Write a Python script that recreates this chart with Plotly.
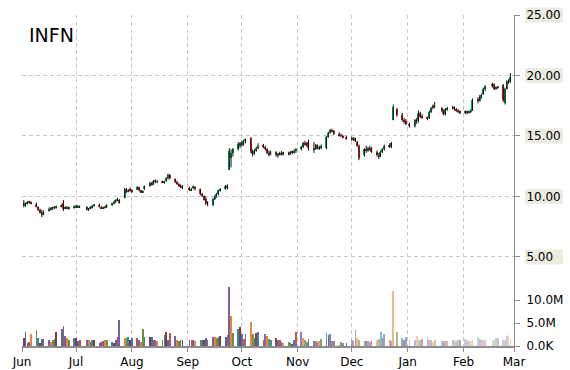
import plotly.graph_objects as go
import pandas as pd

# ---------------- data ----------------
months = ["2014-06", "2014-07", "2014-08", "2014-09", "2014-10", "2014-11", "2014-12", "2015-01", "2015-02"]
trading_days = {
    "2014-06": [2, 3, 4, 5, 6, 9, 10, 11, 12, 13, 16, 17, 18, 19, 20, 23, 24, 25, 26, 27, 30],
    "2014-07": [1, 2, 3, 7, 8, 9, 10, 11, 14, 15, 16, 17, 18, 21, 22, 23, 24, 25, 28, 29, 30, 31],
    "2014-08": [1, 4, 5, 6, 7, 8, 11, 12, 13, 14, 15, 18, 19, 20, 21, 22, 25, 26, 27, 28, 29],
    "2014-09": [2, 3, 4, 5, 8, 9, 10, 11, 12, 15, 16, 17, 18, 19, 22, 23, 24, 25, 26, 29, 30],
    "2014-10": [1, 2, 3, 6, 7, 8, 9, 10, 13, 14, 15, 16, 17, 20, 21, 22, 23, 24, 27, 28, 29, 30, 31],
    "2014-11": [3, 4, 5, 6, 7, 10, 11, 12, 13, 14, 17, 18, 19, 20, 21, 24, 25, 26, 28],
    "2014-12": [1, 2, 3, 4, 5, 8, 9, 10, 11, 12, 15, 16, 17, 18, 19, 22, 23, 24, 26, 29, 30, 31],
    "2015-01": [2, 5, 6, 7, 8, 9, 12, 13, 14, 15, 16, 20, 21, 22, 23, 26, 27, 28, 29, 30],
    "2015-02": [2, 3, 4, 5, 6, 9, 10, 11, 12, 13, 17, 18, 19, 20, 23, 24, 25, 26, 27],
}

opens = [
    9.5, 9.2, 9.4, 9.55, 9.5, 9.4, 9.1, 8.85, 8.7, 8.5, 8.8, 9.0, 8.95, 9.1, 9.05, 9.2, 9.5, 9.0, 9.1, 9.0, 9.1,
    9.1, 9.2, 9.1, 9.15, 8.9, 9.0, 9.1, 9.25, 9.3, 9.15, 9.0, 9.1, 9.1, 9.3, 9.4, 9.55, 9.7, 9.7, 9.9, 10.6, 10.4, 10.55,
    10.5, 10.6, 10.75, 10.5, 10.35, 10.6, 10.85, 11.1, 11.0, 11.3, 11.2, 11.2, 11.15, 11.3, 11.5, 11.8, 11.45, 11.2, 11.05, 10.9, 10.8,
    10.7, 10.5, 10.7, 10.8, 10.6, 10.2, 10.0, 9.8, 9.5, 9.3, 9.8, 10.0, 10.2, 10.5, 10.6, 10.9, 12.2, 13.2, 13.6, 13.9, 14.2,
    14.4, 14.3, 14.6, 14.8, 13.8, 13.5, 13.8, 14.0, 14.2, 14.1, 13.9, 13.6, 13.5, 13.7, 13.4, 13.5, 13.6, 13.5, 13.6, 13.5, 13.7, 13.6, 13.8,
    13.9, 14.1, 14.4, 14.3, 14.5, 14.0, 13.9, 14.25, 14.0, 14.0, 14.0, 14.9, 15.25, 15.5, 15.4, 15.2, 15.05, 15.0, 14.9,
    14.8, 14.7, 14.8, 14.5, 14.2, 13.4, 13.9, 13.8, 14.0, 13.9, 13.7, 13.4, 13.3, 13.7, 13.9, 14.2, 14.1, 16.3, 17.2, 16.7, 16.3, 16.2,
    16.0, 15.8, 16.3, 16.2, 16.9, 16.6, 16.5, 16.5, 17.0, 17.3, 17.6, 17.3, 17.1, 16.8, 17.2, 17.3, 17.4, 17.2, 17.1, 17.0,
    16.9, 17.0, 16.9, 17.0, 17.1, 18.0, 17.9, 18.3, 18.5, 18.9, 19.1, 19.3, 18.9, 19.0, 19.2, 17.7, 18.9, 19.5, 19.5,
]
highs = [
    9.7, 9.5, 9.6, 9.65, 9.6, 9.5, 9.2, 9.0, 8.9, 8.85, 9.1, 9.1, 9.15, 9.2, 9.25, 9.35, 9.7, 9.2, 9.2, 9.15, 9.25,
    9.3, 9.3, 9.25, 9.2, 9.05, 9.2, 9.3, 9.35, 9.4, 9.2, 9.15, 9.2, 9.35, 9.45, 9.6, 9.75, 9.9, 9.8, 10.7, 10.7, 10.6, 10.75,
    10.6, 10.85, 10.8, 10.55, 10.5, 10.9, 11.2, 11.2, 11.35, 11.4, 11.35, 11.3, 11.3, 11.6, 11.9, 11.85, 11.5, 11.3, 11.1, 11.0, 10.95,
    10.8, 10.7, 10.9, 10.85, 10.65, 10.3, 10.1, 10.0, 9.6, 9.9, 10.1, 10.3, 10.55, 10.7, 10.95, 11.0, 14.0, 13.9, 14.0, 14.5, 14.5,
    14.6, 14.7, 14.8, 14.9, 13.9, 13.9, 14.1, 14.4, 14.35, 14.2, 14.0, 13.8, 13.8, 13.75, 13.6, 13.7, 13.75, 13.7, 13.7, 13.75, 13.8, 13.9, 14.0,
    14.2, 14.5, 14.6, 14.5, 14.7, 14.5, 14.35, 14.3, 14.2, 14.3, 15.0, 15.35, 15.6, 15.6, 15.5, 15.3, 15.2, 15.1, 15.0,
    14.95, 14.9, 14.85, 14.6, 14.3, 14.0, 14.2, 14.1, 14.2, 14.1, 13.8, 13.6, 13.8, 14.0, 14.3, 14.4, 14.5, 17.6, 17.3, 16.9, 16.5, 16.4,
    16.1, 16.4, 16.5, 17.1, 17.0, 16.8, 16.6, 17.1, 17.4, 17.6, 17.8, 17.4, 17.2, 17.3, 17.4, 17.5, 17.45, 17.3, 17.2, 17.1,
    17.1, 17.1, 17.1, 17.2, 18.1, 18.2, 18.4, 18.5, 19.0, 19.2, 19.4, 19.35, 19.1, 19.1, 19.3, 19.0, 19.6, 19.7, 20.2,
]
lows = [
    9.1, 9.15, 9.35, 9.4, 9.35, 9.1, 8.8, 8.6, 8.3, 8.45, 8.75, 8.85, 8.9, 8.95, 9.0, 9.1, 8.8, 8.95, 8.95, 8.9, 9.0,
    9.05, 9.05, 9.05, 8.85, 8.8, 8.95, 9.0, 9.15, 9.1, 8.95, 8.95, 9.0, 9.05, 9.2, 9.35, 9.45, 9.6, 9.4, 9.85, 10.3, 10.35, 10.4,
    10.3, 10.55, 10.4, 10.3, 10.3, 10.55, 10.8, 10.9, 10.95, 11.1, 11.1, 11.1, 11.05, 11.2, 11.4, 11.4, 11.1, 10.95, 10.8, 10.7, 10.6,
    10.45, 10.45, 10.6, 10.5, 10.1, 9.95, 9.65, 9.3, 9.2, 9.2, 9.7, 9.9, 10.1, 10.4, 10.55, 10.6, 12.2, 12.4, 13.3, 13.8, 14.0,
    14.1, 14.2, 14.4, 13.6, 13.3, 13.45, 13.7, 13.9, 14.0, 13.8, 13.5, 13.3, 13.4, 13.3, 13.2, 13.4, 13.4, 13.4, 13.4, 13.45, 13.5, 13.55, 13.6,
    13.8, 14.0, 14.2, 14.1, 13.8, 13.6, 13.85, 13.9, 13.85, 13.9, 13.9, 14.85, 15.2, 15.3, 15.1, 14.95, 14.9, 14.8, 14.7,
    14.6, 14.6, 14.5, 14.1, 13.0, 13.3, 13.6, 13.7, 13.8, 13.6, 13.3, 13.1, 13.25, 13.6, 13.8, 14.0, 14.0, 16.3, 16.6, 16.2, 16.0, 15.9,
    15.7, 15.7, 16.0, 16.1, 16.5, 16.4, 16.3, 16.4, 16.9, 17.2, 17.3, 17.0, 16.7, 16.7, 17.1, 17.2, 17.1, 17.0, 16.9, 16.8,
    16.8, 16.8, 16.85, 16.9, 17.1, 17.7, 17.85, 18.1, 18.4, 18.7, 19.0, 18.8, 18.8, 18.9, 17.8, 17.6, 18.85, 19.3, 19.4,
]
closes = [
    9.2, 9.4, 9.55, 9.5, 9.45, 9.15, 8.85, 8.7, 8.45, 8.75, 9.0, 8.95, 9.1, 9.05, 9.2, 9.3, 9.0, 9.1, 9.0, 9.1, 9.15,
    9.2, 9.1, 9.2, 8.9, 9.0, 9.15, 9.25, 9.3, 9.15, 9.0, 9.1, 9.05, 9.3, 9.4, 9.55, 9.7, 9.8, 9.5, 10.6, 10.4, 10.55, 10.5,
    10.45, 10.75, 10.5, 10.35, 10.45, 10.85, 11.1, 11.0, 11.3, 11.2, 11.25, 11.15, 11.25, 11.5, 11.8, 11.5, 11.2, 11.05, 10.9, 10.8, 10.7,
    10.5, 10.65, 10.8, 10.6, 10.2, 10.0, 9.7, 9.5, 9.4, 9.8, 10.0, 10.2, 10.5, 10.6, 10.85, 10.7, 13.8, 13.6, 13.9, 14.3, 14.4,
    14.3, 14.6, 14.7, 13.8, 13.5, 13.8, 14.0, 14.2, 14.1, 13.9, 13.6, 13.4, 13.7, 13.4, 13.5, 13.6, 13.5, 13.65, 13.5, 13.7, 13.6, 13.8, 13.9,
    14.1, 14.4, 14.3, 14.4, 14.0, 13.9, 14.25, 14.0, 14.1, 14.2, 14.9, 15.25, 15.5, 15.4, 15.2, 15.05, 15.0, 14.9, 14.8,
    14.7, 14.8, 14.6, 14.2, 13.2, 13.9, 13.8, 14.0, 13.9, 13.7, 13.4, 13.3, 13.7, 13.9, 14.2, 14.1, 14.4, 17.4, 16.7, 16.3, 16.2, 16.0,
    15.8, 16.3, 16.2, 16.9, 16.6, 16.5, 16.45, 17.0, 17.3, 17.5, 17.4, 17.1, 16.8, 17.2, 17.3, 17.4, 17.2, 17.1, 17.0, 16.9,
    17.0, 16.9, 17.05, 17.1, 18.0, 17.9, 18.3, 18.4, 18.9, 19.1, 19.3, 18.9, 19.0, 19.05, 18.0, 18.9, 19.5, 19.4, 19.9,
]
volumes_m = [
    1.7, 3.0, 0.7, 0.9, 2.6, 3.5, 1.7, 0.7, 1.5, 1.5, 1.3, 0.9, 1.4, 1.5, 3.1, 3.7, 4.3, 2.2, 1.7, 1.2, 1.7,
    1.7, 1.0, 1.4, 1.4, 1.2, 0.9, 1.3, 1.3, 0.7, 0.9, 1.1, 1.3, 1.4, 0.9, 0.7, 1.4, 1.9, 5.6, 1.7, 1.7, 1.9, 1.2,
    1.7, 1.7, 1.4, 0.9, 3.8, 1.9, 1.9, 1.9, 1.3, 1.2, 1.0, 1.4, 2.4, 3.0, 1.4, 2.8, 2.2, 1.4, 1.0, 1.4, 1.3,
    1.4, 1.3, 1.4, 1.0, 1.3, 1.4, 1.3, 1.7, 1.3, 2.0, 1.9, 1.7, 2.0, 2.2, 2.0, 2.5, 12.9, 6.5, 2.8, 3.7, 4.1,
    2.6, 1.5, 2.6, 5.2, 2.6, 1.7, 2.8, 3.0, 1.3, 2.6, 2.2, 1.5, 1.3, 1.7, 1.4, 1.4, 0.9, 0.7, 0.9, 0.6, 0.4, 1.4, 3.1,
    3.1, 1.7, 1.4, 0.9, 1.5, 1.1, 1.1, 0.9, 1.1, 1.5, 2.9, 2.4, 2.6, 1.1, 1.1, 0.2, 0.9, 0.7, 0.7,
    1.4, 1.1, 3.5, 1.7, 1.4, 1.1, 1.1, 1.1, 0.9, 1.4, 1.4, 1.5, 3.1, 1.7, 2.6, 1.2, 1.0, 12.0, 3.0, 1.7, 1.4, 1.9,
    1.3, 1.2, 2.2, 1.2, 1.2, 1.5, 1.7, 1.4, 1.4, 0.9, 1.3, 1.0, 1.0, 1.1, 1.1, 1.3, 1.3, 1.0, 1.2, 1.4,
    1.6, 1.2, 1.0, 1.0, 1.2, 2.0, 1.5, 1.3, 1.2, 1.3, 1.2, 1.3, 1.7, 1.7, 1.2, 1.4, 2.2, 2.4, 1.5,
]
month_ticks = ["2014-06-01", "2014-07-01", "2014-08-01", "2014-09-01", "2014-10-01", "2014-11-01",
               "2014-12-01", "2015-01-01", "2015-02-01", "2015-03-01"]
month_labels = ["Jun", "Jul", "Aug", "Sep", "Oct", "Nov", "Dec", "Jan", "Feb", "Mar"]
price_ticks = [5, 10, 15, 20, 25]
volume_ticks = [0, 5e6, 10e6]
volume_labels = ["0.0K", "5.0M", "10.0M"]
symbol = "INFN"

# ---------------- build ----------------
dates = []
month_of = []
for m in months:
    for d in trading_days[m]:
        dates.append(pd.Timestamp(f"{m}-{d:02d}"))
        month_of.append(m)

df = pd.DataFrame({"date": dates, "open": opens, "high": highs, "low": lows,
                   "close": closes, "volume": [v * 1e6 for v in volumes_m], "month": month_of})

UP = "#00a651"
DOWN = "#ee1c25"
GRID = "#c8c8c8"
AXIS = "#8c8c8c"
FONT = "DejaVu Sans"
DASH = "4px,3px"

# wicks
wx, wy = [], []
for d, h, l in zip(df["date"], df["high"], df["low"]):
    wx += [d, d, None]
    wy += [l, h, None]

body_base = [min(o, c) for o, c in zip(df["open"], df["close"])]
body_len = [max(abs(c - o), 0.04) for o, c in zip(df["open"], df["close"])]
body_col = [UP if c >= o else DOWN for o, c in zip(df["open"], df["close"])]

palette = ["#8b3a3a", "#6f8f3a", "#7b5ea7", "#3f6fb5", "#2b8ca8", "#e8843a", "#c0504d"]
vol_col = [palette[(i * 3) % len(palette)] for i in range(len(df))]
fade = {"2014-06": 1, "2014-07": 1, "2014-08": 1, "2014-09": 1, "2014-10": 0.95,
        "2014-11": 0.8, "2014-12": 0.6, "2015-01": 0.45, "2015-02": 0.35}
vol_op = [fade[m] for m in df["month"]]

DAY = 86400000

fig = go.Figure()
fig.add_trace(go.Bar(x=df["date"], y=df["volume"], yaxis="y2", width=DAY * 0.42,
                     marker=dict(color=vol_col, opacity=vol_op, line=dict(width=0)),
                     showlegend=False, hoverinfo="skip"))
fig.add_trace(go.Scatter(x=wx, y=wy, mode="lines", line=dict(color="#111111", width=1),
                         showlegend=False, hoverinfo="skip"))
fig.add_trace(go.Bar(x=df["date"], y=body_len, base=body_base, width=DAY * 0.8,
                     marker=dict(color=body_col, line=dict(width=0)),
                     showlegend=False, hoverinfo="skip"))

y_min, y_max = -2.36, 25.0
plot_l, plot_r, plot_t, plot_b = 22, 56, 15, 24
plot_w = 570 - plot_l - plot_r
plot_h = 370 - plot_t - plot_b

# beige backgrounds behind price tick labels
for v in price_ticks:
    py = (v - y_min) / (y_max - y_min)
    fig.add_shape(type="rect", xref="paper", yref="paper", layer="below",
                  x0=1 + 11 / plot_w, x1=1 + 49 / plot_w,
                  y0=py - 7.5 / plot_h, y1=py + 7.5 / plot_h,
                  fillcolor="#ecebe0", line=dict(width=0))

fig.add_annotation(text=symbol, xref="paper", yref="paper", x=5 / plot_w, y=1 - 7 / plot_h,
                   xanchor="left", yanchor="top", showarrow=False,
                   font=dict(family=FONT, size=19, color="#000000"))

fig.update_layout(
    width=570, height=370,
    margin=dict(l=plot_l, r=plot_r, t=plot_t, b=plot_b, autoexpand=False),
    paper_bgcolor="white", plot_bgcolor="white",
    barmode="overlay", bargap=0,
    font=dict(family=FONT, size=12, color="#000000"),
    xaxis=dict(type="date", range=["2014-06-01", "2015-03-01"],
               tickvals=month_ticks, ticktext=month_labels,
               showgrid=True, gridcolor=GRID, griddash=DASH, gridwidth=1,
               showline=True, linecolor=AXIS, linewidth=2,
               ticks="outside", ticklen=4, tickcolor=AXIS, zeroline=False,
               automargin=False, tickfont=dict(family=FONT, size=12)),
    yaxis=dict(side="right", range=[y_min, y_max],
               tickvals=price_ticks, ticktext=[f"{v:.2f}" for v in price_ticks],
               showgrid=True, gridcolor=GRID, griddash=DASH, gridwidth=1,
               showline=True, linecolor=AXIS, linewidth=1, mirror=False,
               ticks="outside", ticklen=5, tickcolor=AXIS, zeroline=False,
               automargin=False, ticklabelstandoff=4, tickfont=dict(family=FONT, size=12)),
    yaxis2=dict(side="right", overlaying="y", range=[0, 72e6],
                tickvals=volume_ticks, ticktext=volume_labels,
                showgrid=False, showline=False, zeroline=False,
                ticks="outside", ticklen=5, tickcolor=AXIS,
                automargin=False, ticklabelstandoff=4, tickfont=dict(family=FONT, size=12)),
)

fig.write_html("out.html")
